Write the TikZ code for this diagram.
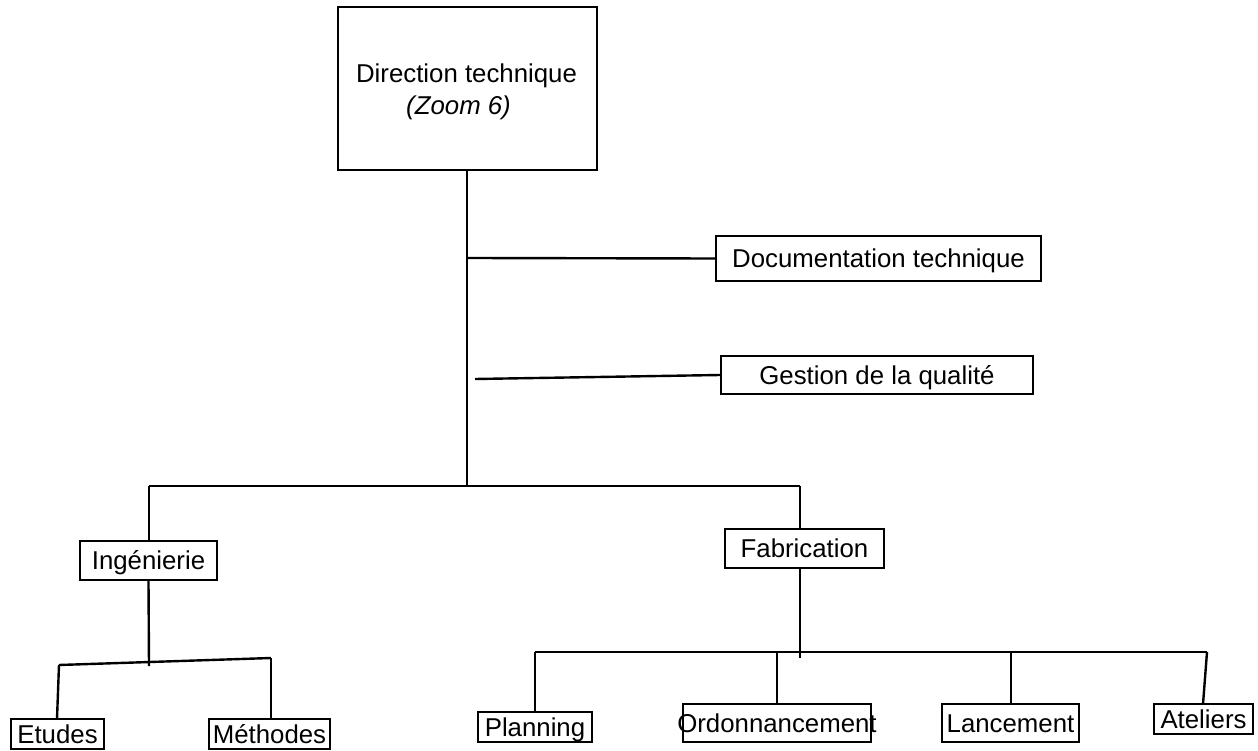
\documentclass[tikz,border=0pt]{standalone}
\usepackage{fontspec}
\setmainfont{Liberation Sans}
\begin{document}
\begin{tikzpicture}[x=1pt,y=-1pt,
  line width=2.4pt,
  lbl/.style={font=\fontsize{25.8}{30}\selectfont, inner sep=0pt},
  box/.style={draw, line width=2.4pt, inner sep=0pt, text height=18.4pt, text depth=0pt,
              font=\fontsize{25.8}{30}\selectfont, anchor=center}]
\useasboundingbox (0,0) rectangle (1258,751);
% top box
\node[draw, line width=2.4pt, minimum width=259pt, minimum height=163pt, inner sep=0pt] (dir) at (467.5,88.5) {};
\node[lbl, anchor=base] (dirt) at (466.5,83) {Direction technique};
\node[lbl, anchor=base west, font=\fontsize{25.8}{30}\selectfont\itshape] (zoom) at (405,115) {(Zoom 6)};
% staff boxes
\node[box, minimum width=325pt, minimum height=45pt] (doc) at (878.5,258.5) {Documentation technique};
\node[box, minimum width=312pt, minimum height=38pt] (qual) at (877,375) {Gestion de la qualit\'e};
% level 2
\node[box, minimum width=137pt, minimum height=39pt] (ing) at (148.5,560.5) {Ing\'enierie};
\node[box, minimum width=159pt, minimum height=39pt] (fab) at (804.5,548.5) {Fabrication};
% level 3 left
\node[box, minimum width=93pt, minimum height=30pt] (etu) at (57.5,734) {Etudes};
\node[box, minimum width=121pt, minimum height=30pt] (met) at (269.5,734) {M\'ethodes};
% level 3 right
\node[box, minimum width=114pt, minimum height=30pt] (pla) at (535,727) {Planning};
\node[box, minimum width=188pt, minimum height=38pt] (ord) at (777,723) {\makebox[0pt]{Ordonnancement}};
\node[box, minimum width=137pt, minimum height=38pt] (lan) at (1010.5,723) {Lancement};
\node[box, minimum width=99pt, minimum height=30pt] (ate) at (1203.5,719) {Ateliers};
% junction coordinates
\coordinate (t0) at (467,170);
\coordinate (tdoc) at (467,258);
\coordinate (tq) at (475,379);
\coordinate (tbar) at (467,486);
\coordinate (bl) at (149,486);
\coordinate (br) at (800,486);
\coordinate (ij) at (149,666);
\coordinate (el) at (59,665);
\coordinate (mr) at (271,658);
\coordinate (fj) at (800,658);
\coordinate (pl) at (535,652);
\coordinate (oj) at (777,652);
\coordinate (lj) at (1011,652);
\coordinate (aj) at (1207,652);
% connectors
\draw (t0) -- (tbar);
\draw (tdoc) -- (doc.west);
\draw (tq) -- (qual.west);
\draw (bl) -- (br);
\draw (bl) -- (bl |- ing.north);
\draw (br) -- (br |- fab.north);
\draw (ing.south) -- (ij);
\draw (el) -- (mr);
\draw (el) -- (57,719);
\draw (mr) -- (mr |- met.north);
\draw (fab.south -| fj) -- (fj);
\draw (pl) -- (aj);
\draw (pl) -- (pl |- pla.north);
\draw (oj) -- (oj |- ord.north);
\draw (lj) -- (lj |- lan.north);
\draw (aj) -- (1203,704);
\end{tikzpicture}
\end{document}
